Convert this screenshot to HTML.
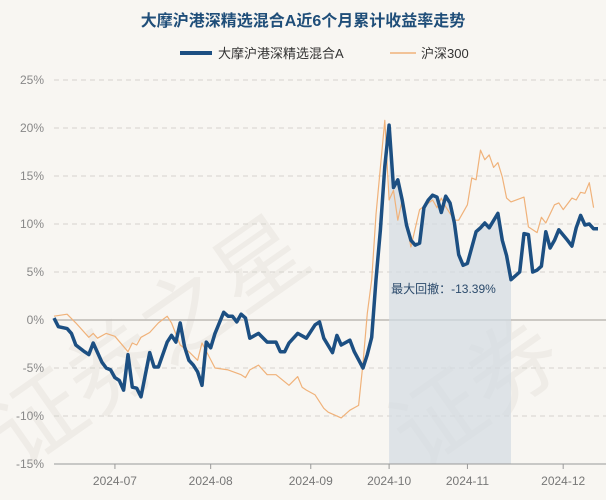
<!DOCTYPE html>
<html><head><meta charset="utf-8">
<style>
body{margin:0;background:#f8f6f2;}
svg{display:block;font-family:"Liberation Sans","Noto Sans CJK SC",sans-serif;}
</style></head>
<body>
<svg id="chart" width="606" height="500">
<rect width="606" height="500" fill="#f8f6f2"/>
<g fill="#efece7" font-size="90" font-family="Noto Sans CJK SC,sans-serif">
<text x="20" y="470" transform="rotate(-35 20 470)">证券之星</text>
<text x="420" y="470" transform="rotate(-35 420 470)">证券</text>
</g>
<text x="303" y="26" text-anchor="middle" font-size="16" font-weight="bold" fill="#1f4e79">大摩沪港深精选混合A近6个月累计收益率走势</text>
<g>
<line x1="180" y1="53" x2="212" y2="53" stroke="#1c4f82" stroke-width="4"/>
<text x="218" y="58" font-size="13" fill="#333">大摩沪港深精选混合A</text>
<line x1="390" y1="53" x2="416" y2="53" stroke="#f0b27a" stroke-width="1.5"/>
<text x="421" y="58" font-size="13" fill="#333">沪深300</text>
</g>
<g id="grid"></g>
<g id="shade"></g>
<g id="series"></g>
<g id="axes"></g>
</svg>
<script>
const yTicks=[25,20,15,10,5,0,-5,-10,-15];
const xTickLabels=["2024-07","2024-08","2024-09","2024-10","2024-11","2024-12"];
const xTickDays=[14,36,59,77,95,117];
const fundDays=[0,1,3,4,5,7,8,9,11,12,13,14,15,16,17,18,19,20,22,23,24,26,27,28,29,30,31,32,33,34,35,36,37,39,40,41,42,43,44,45,47,49,51,52,53,54,56,58,60,61,62,64,65,66,68,69,71,72,73,74,75,76,77,78,79,80,81,82,83,84,85,86,87,88,89,90,91,92,93,94,95,97,98,99,100,102,103,104,105,107,108,109,110,111,112,113,114,115,116,118,119,120,121,122,123,124,125];
const fundValues=[0.2,-0.7,-0.9,-1.4,-2.6,-3.3,-3.6,-2.4,-4.4,-5.0,-5.2,-6.0,-6.3,-7.3,-3.6,-7.0,-7.1,-8.0,-3.4,-4.9,-4.9,-2.3,-1.6,-2.3,-0.3,-2.8,-4.2,-4.7,-5.4,-6.8,-2.3,-2.9,-1.4,0.8,0.4,0.4,-0.2,0.6,0.2,-1.9,-1.4,-2.3,-2.3,-3.3,-3.3,-2.4,-1.4,-1.9,-0.5,-0.2,-1.9,-3.4,-1.6,-2.6,-2.1,-3.3,-5.0,-3.6,-1.8,4.2,9.4,16.0,20.3,13.8,14.6,12.5,9.9,8.3,7.8,8.0,11.7,12.5,13.0,12.8,11.2,12.9,12.2,10.1,6.8,5.7,5.9,9.2,9.6,10.1,9.6,11.1,8.3,6.7,4.2,5.0,9.0,8.9,5.0,5.2,5.6,9.2,7.5,8.3,9.4,8.3,7.7,9.6,10.9,9.9,10.0,9.5,9.5];
const csiDays=[0,3,5,8,9,10,12,14,17,18,19,20,22,24,26,27,29,31,33,34,37,40,43,44,45,47,49,51,54,56,57,58,60,62,63,66,68,70,71,72,73,74,76,77,78,79,80,82,84,87,88,89,90,92,93,95,96,97,98,99,100,101,102,103,104,105,108,109,111,112,113,115,116,117,119,120,121,122,123,124];
const csiValues=[0.4,0.6,-0.3,-1.8,-1.4,-1.9,-1.4,-1.7,-3.3,-2.4,-2.6,-1.8,-1.3,-0.3,0.4,-0.3,-2.6,-3.3,-4.2,-2.4,-5.0,-5.2,-5.7,-6.0,-5.2,-4.7,-5.7,-5.7,-6.8,-5.9,-7.0,-7.3,-7.8,-9.2,-9.6,-10.2,-9.4,-8.9,-4.5,0.7,4.2,11.0,20.8,12.5,13.5,10.4,12.5,7.6,11.5,12.5,11.7,12.7,11.8,10.4,10.4,12.0,14.8,14.6,17.7,16.7,17.2,15.9,16.4,14.9,12.7,12.3,12.8,9.7,9.1,10.7,10.1,12.0,12.2,11.5,12.7,12.5,13.3,13.2,14.3,11.7];
const drawdownStart=77, drawdownEnd=105, drawdownText="最大回撤：-13.39%";

const X0=54,X1=598,DMAX=125,Y0=320,PPU=9.6;
const xs=d=>X0+(X1-X0)*d/DMAX;
const ys=v=>Y0-v*PPU;
const NS="http://www.w3.org/2000/svg";
function mk(tag,attrs,parent){const e=document.createElementNS(NS,tag);for(const k in attrs)e.setAttribute(k,attrs[k]);parent.appendChild(e);return e;}
const grid=document.getElementById('grid'),axes=document.getElementById('axes'),shade=document.getElementById('shade'),series=document.getElementById('series');
yTicks.forEach(t=>{
  const y=ys(t);
  if(t!==-15){
    const l=mk('line',{x1:X0,x2:X1+8,y1:y,y2:y,stroke:t===0?'#bdbab5':'#d6d3ce','stroke-width':t===0?1.5:1,'stroke-dasharray':t===0?'':'5,4'},grid);
    
    
  }
  const tx=mk('text',{x:44,y:y+4,'text-anchor':'end','font-size':12,fill:'#888'},axes);
  tx.textContent=t+'%';
  
  
});
const base=mk('line',{x1:X0,x2:X1+8,y1:ys(-15),y2:ys(-15),stroke:'#999','stroke-width':1},axes);


xTickLabels.forEach((s,i)=>{
  const x=xs(xTickDays[i]);
  const tk=mk('line',{x1:x,x2:x,y1:ys(-15),y2:ys(-15)+5,stroke:'#999'},axes);
  
  
  const tx=mk('text',{x:x,y:485,'text-anchor':'middle','font-size':12,fill:'#777'},axes);
  tx.textContent=s;
  
  
});
// drawdown area under the fund line
let dd='';
fundDays.forEach((d,i)=>{ if(d>=drawdownStart && d<=drawdownEnd){ dd+=(dd?'L':'M')+xs(d).toFixed(1)+','+ys(fundValues[i]).toFixed(1); } });
dd+='L'+xs(drawdownEnd).toFixed(1)+','+ys(-15)+'L'+xs(drawdownStart).toFixed(1)+','+ys(-15)+'Z';
const r=mk('path',{d:dd,fill:'#d3dce3','fill-opacity':0.7},shade);


const dt=mk('text',{x:xs(drawdownStart)+2,y:293,'font-size':12,fill:'#2b4a6b'},series);
dt.textContent=drawdownText;


function path(days,vals){return days.map((d,i)=>(i?'L':'M')+xs(d).toFixed(1)+','+ys(vals[i]).toFixed(1)).join('');}
const pc=mk('path',{d:path(csiDays,csiValues),fill:'none',stroke:'#f0b27a','stroke-width':1.2,'stroke-linejoin':'round'},series);


const pf=mk('path',{d:path(fundDays,fundValues),fill:'none',stroke:'#1c4f82','stroke-width':3.5,'stroke-linejoin':'round'},series);


</script>
</body></html>
